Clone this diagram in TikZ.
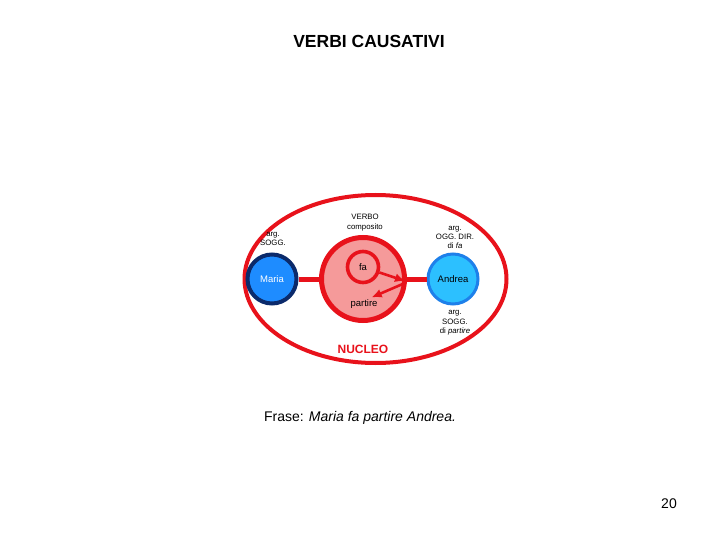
\documentclass[tikz,border=0pt]{standalone}
\usepackage{fontspec}
\setmainfont{Liberation Sans}
\usepackage{xcolor}
\usetikzlibrary{arrows.meta,positioning,calc}
\definecolor{CausRed}{HTML}{E8121B}
\definecolor{CausPink}{HTML}{F59A9A}
\definecolor{CausBlue}{HTML}{1E8CFF}
\definecolor{CausNavy}{HTML}{0B2A6B}
\definecolor{CausSky}{HTML}{2CC0FF}
\definecolor{CausSkyLine}{HTML}{1E80EA}

\begin{document}
\begin{tikzpicture}[x=1pt,y=-1pt,>={Latex[length=10pt,width=9pt]},
  tag/.style={align=center,inner sep=0pt,font=\fontsize{7.8}{9.4}\selectfont},
  link/.style={CausRed,line width=5pt},
  push/.style={CausRed,line width=2.6pt,->}]
  \useasboundingbox (0,0) rectangle (720,540);
  \node[font=\fontsize{17.5}{20}\selectfont\bfseries] (title) at (369,41) {VERBI CAUSATIVI};
  % nucleo
  \draw[CausRed,line width=4pt] (375.5,279) ellipse [x radius=131, y radius=84];
  \node[circle,draw=CausRed,line width=5pt,fill=CausPink,minimum size=83pt,
        inner sep=0pt] (verbo) at (363,279) {};
  \node[circle,draw=CausRed,line width=3.6pt,fill=CausPink,minimum size=31pt,
        inner sep=0pt,font=\fontsize{9.5}{10}\selectfont] (fa) at (363,267) {fa};
  \node[circle,draw=CausNavy,line width=4pt,fill=CausBlue,minimum size=49pt,
        inner sep=0pt,text=white,font=\fontsize{9.5}{10}\selectfont] (maria) at (272,279) {Maria};
  \node[circle,draw=CausSkyLine,line width=3pt,fill=CausSky,minimum size=50pt,
        inner sep=0pt,font=\fontsize{9.5}{10}\selectfont] (andrea) at (453,279) {Andrea};
  \draw[link] (maria) -- (verbo);
  \draw[link] (verbo) -- (andrea);
  \node[inner sep=0pt,font=\fontsize{9.5}{10}\selectfont] (partire) at (364,304) {partire};
  \coordinate (hit) at (405,281);
  \draw[push] (fa) -- (hit);
  \draw[push] ($(hit)+(0,2)$) -- ($(partire.north east)+(-6,-2)$);
  % etichette
  \node[tag] (verbolab) at (365,222.5) {VERBO\\composito};
  \node[tag] (soggmaria) at (273,239) {arg.\\SOGG.};
  \node[tag] (oggandrea) at (455,237.5) {arg.\\OGG. DIR.\\di \textit{fa}};
  \node[tag] (soggandrea) at (455,323) {arg.\\SOGG.\\di \textit{partire}};
  \node[CausRed,font=\fontsize{12}{14}\selectfont\bfseries] (nucleo) at (363,349) {NUCLEO};
  \node[font=\fontsize{14}{16}\selectfont] (frase) at (360,418)
    {Frase: \textit{Maria fa partire Andrea.}};
  \node[font=\fontsize{14}{16}\selectfont] (page) at (669,504) {20};
\end{tikzpicture}
\end{document}
